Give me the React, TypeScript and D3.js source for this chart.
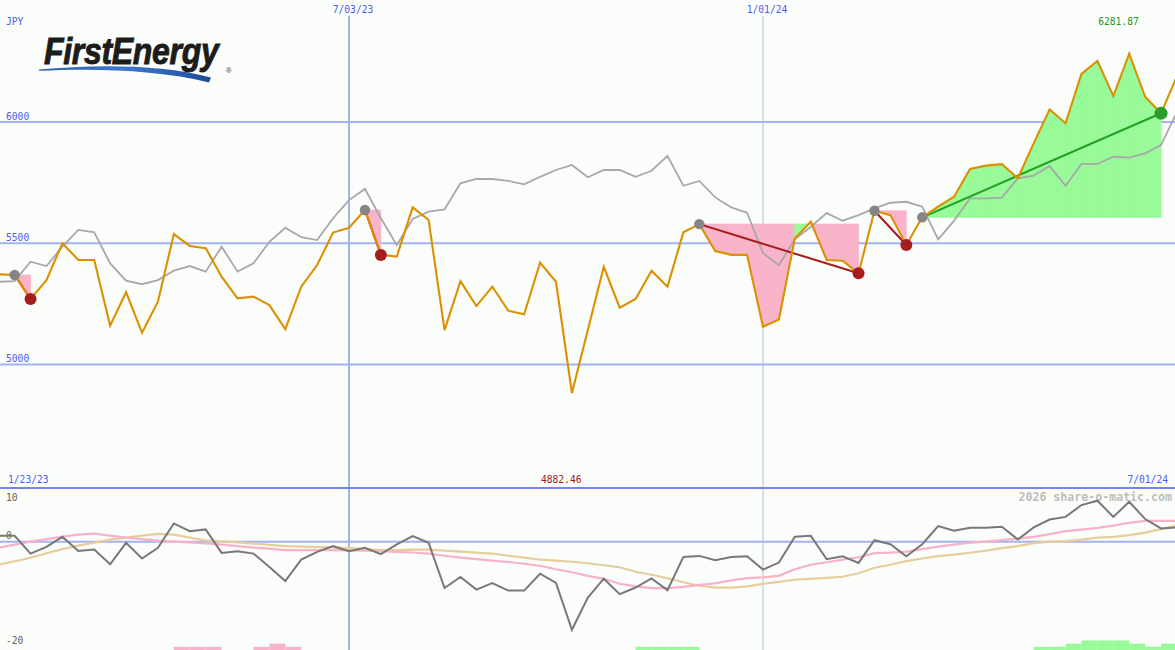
import React from 'react';
import * as d3 from 'd3';

// ---------- data ----------
const firstWeek = Date.UTC(2023, 0, 30);
const lastWeekEnd = Date.UTC(2024, 6, 2);
const rangeLabels = ['1/23/23', '7/01/24'];
const currency = 'JPY';

const price = [
  5372, 5369, 5270, 5348, 5500, 5431, 5431, 5160, 5298, 5131,
  5259, 5538, 5489, 5480, 5362, 5273, 5280, 5245, 5146, 5321,
  5410, 5544, 5564, 5637, 5452, 5445, 5648, 5596, 5142, 5344,
  5241, 5321, 5222, 5207, 5420, 5341, 4882.46, 5142, 5403, 5234,
  5270, 5387, 5321, 5545, 5579, 5468, 5452, 5452, 5156, 5186,
  5520, 5589, 5431, 5428, 5376, 5634, 5616, 5493, 5607, 5651,
  5692, 5806, 5820, 5826, 5768, 5912, 6052, 5995, 6198, 6252,
  6107, 6281.87, 6104, 6036, 6190,
];

const benchmark = [
  5341, 5344, 5424, 5406, 5486, 5555, 5545, 5417, 5346, 5331,
  5348, 5387, 5406, 5383, 5486, 5383, 5417, 5506, 5564, 5525,
  5513, 5603, 5678, 5724, 5603, 5493, 5600, 5630, 5640, 5747,
  5765, 5765, 5757, 5743, 5774, 5802, 5823, 5772, 5802, 5802,
  5774, 5799, 5860, 5737, 5757, 5689, 5648, 5626, 5459, 5410,
  5516, 5568, 5624, 5593, 5616, 5644, 5667, 5671, 5651, 5516,
  5593, 5685, 5685, 5688, 5768, 5779, 5819, 5737, 5827, 5827,
  5857, 5853, 5871, 5905, 6042,
];

const oscillator = [
  1.08, 1.08, -2.22, -0.97, 0.9, -1.72, -1.46, -4.21, -0.22, -3.14,
  -1.16, 3.4, 1.96, 2.28, -2.09, -1.78, -2.22, -4.71, -7.33, -3.33,
  -1.89, -0.84, -1.78, -1.16, -2.34, -0.52, 1.03, -0.22, -8.64, -6.58,
  -8.94, -7.7, -9.12, -9.12, -5.98, -7.7, -16.42, -10.4, -6.9, -9.77,
  -8.54, -6.86, -9.03, -2.84, -2.65, -3.46, -2.84, -2.71, -5.2, -3.89,
  0.9, 1.08, -3.27, -2.71, -3.96, 0.28, -0.47, -2.71, -0.47, 2.9,
  2.02, 2.58, 2.58, 2.77, 0.41, 2.65, 4.13, 4.62, 6.82, 7.63,
  4.62, 7.43, 4.21, 2.47, 2.65,
];

const oscFast = [
  -1.12, -0.56, 0, 0.47, 0.93, 1.31, 1.5, 1.12, 0.75, 0.47,
  0.19, 0, -0.15, -0.34, -0.56, -0.84, -1.12, -1.31, -1.59, -1.59,
  -1.59, -1.59, -1.63, -1.68, -1.78, -1.91, -2.02, -2.24, -2.62, -2.99,
  -3.27, -3.55, -3.79, -4.11, -4.49, -5.14, -5.7, -6.36, -6.92, -7.85,
  -8.32, -8.64, -8.64, -8.41, -8.04, -7.76, -7.2, -6.79, -6.64, -6.36,
  -5.14, -4.3, -3.83, -3.36, -2.9, -2.15, -2.06, -1.87, -1.4, -0.93,
  -0.56, -0.19, 0, 0.28, 0.56, 0.9, 1.4, 1.96, 2.24, 2.56,
  2.99, 3.51, 3.88, 3.88, 3.88,
];

const oscSlow = [
  -4.3, -3.64, -2.99, -2.15, -1.4, -0.75, -0.19, 0.37, 0.75, 1.12,
  1.44, 1.31, 0.75, 0.24, 0.06, -0.15, -0.37, -0.6, -0.84, -0.93,
  -1.03, -1.08, -1.21, -1.4, -1.59, -1.59, -1.5, -1.5, -1.68, -1.87,
  -2.06, -2.21, -2.62, -2.99, -3.33, -3.55, -3.74, -4.02, -4.39, -4.77,
  -5.61, -6.17, -6.82, -7.57, -8.22, -8.56, -8.56, -8.32, -7.85, -7.48,
  -7.1, -6.92, -6.73, -6.54, -5.89, -4.86, -4.3, -3.64, -3.14, -2.71,
  -2.43, -2.06, -1.68, -1.21, -0.84, -0.28, 0, 0.09, 0.37, 0.75,
  0.9, 1.21, 1.68, 2.34, 2.99,
];

const sellBarIdx = [11, 12, 13, 16, 17, 18];
const sellBarLevel = [1, 1, 1, 1, 2, 1];
const buyBarIdx = [40, 41, 42, 43, 65, 66, 67, 68, 69, 70, 71, 72, 73];
const buyBarLevel = [1, 1, 1, 1, 1, 1, 2, 3, 3, 3, 2, 1, 2];

const peakIdx = [1, 23, 44, 55, 58];
const troughIdx = [2, 24, 54, 57];
const drawdowns: [number, number][] = [[1, 2], [23, 24], [44, 54], [55, 57]];
const gains: [number, number][] = [[58, 73]];

const priceTicks = [5000, 5500, 6000];
const oscTicks = [10, 0, -20];
const dateTicks = [Date.UTC(2023, 6, 3), Date.UTC(2024, 0, 1)];

// ---------- style ----------
const W = 1175;
const H = 650;
const MONO = "'DejaVu Sans Mono', 'Liberation Mono', monospace";
const BLUE_TXT = '#4a5cf0';
const GRID = '#a3b3f2';
const ORANGE = '#dc9000';
const PINK = '#f9b4c9';
const GREENF = '#98fa98';

function Label(props: {
  x: number;
  y: number;
  fill: string;
  anchor?: 'start' | 'middle' | 'end';
  children: string;
}) {
  const s = String(props.children);
  return (
    <text
      x={props.x}
      y={props.y}
      textAnchor={props.anchor || 'start'}
      fontFamily={MONO}
      fontSize={11}
      textLength={s.length * 5.8}
      lengthAdjust="spacingAndGlyphs"
      fill={props.fill}
    >
      {s}
    </text>
  );
}

export default function App() {
  const dates = d3.utcMonday.range(new Date(firstWeek), new Date(lastWeekEnd));
  const x = d3.scaleUtc().domain([dateTicks[0], dateTicks[1]]).range([349, 763]);
  const yP = d3.scaleLinear().domain([5000, 6000]).range([364.5, 122]);
  const yO = d3.scaleLinear().domain([-20, 10]).range([649, 488]);
  const yB = d3.scaleLinear().domain([0, 3]).range([650, 640.5]);

  const X = (i: number) => x(dates[i]);
  const priceLine = d3.line<number>().x((_, i) => X(i)).y((d) => yP(d));
  const oscLine = d3.line<number>().x((_, i) => X(i)).y((d) => yO(d));

  const fills: { pts: [number, number][]; color: string }[] = [];
  const addFills = (spans: [number, number][]) => {
    spans.forEach(([a, b]) => {
      const level = price[a];
      for (let i = a; i < b; i++) {
        fills.push({
          pts: [
            [X(i), yP(level)],
            [X(i + 1), yP(level)],
            [X(i + 1), yP(price[i + 1])],
            [X(i), yP(price[i])],
          ],
          color: price[i + 1] > level ? GREENF : PINK,
        });
      }
    });
  };
  addFills(drawdowns);
  addFills(gains);

  const maxIdx = d3.maxIndex(price);
  const minIdx = d3.minIndex(price);
  const fmtDate = d3.utcFormat('%-m/%d/%y');

  return (
    <svg width={W} height={H} style={{ display: 'block', position: 'absolute', left: 0, top: 0 }}>
      <style>{`body{margin:0}`}</style>
      <rect x={0} y={0} width={W} height={H} fill="#fbfdfb" />

      {/* horizontal price grid */}
      {priceTicks.map((t) => (
        <g key={t}>
          <line x1={0} x2={W} y1={yP(t)} y2={yP(t)} stroke={GRID} strokeWidth={2} />
          <Label x={6} y={yP(t) - 2.5} fill={BLUE_TXT}>
            {String(t)}
          </Label>
        </g>
      ))}

      {/* vertical date grid */}
      {dateTicks.map((d, k) => (
        <g key={d}>
          <line
            x1={x(d)}
            x2={x(d)}
            y1={16}
            y2={H}
            stroke={k === 0 ? GRID : '#b6bbe2'}
            strokeWidth={k === 0 ? 2 : 1}
          />
          <Label x={x(d) + 4} y={13} anchor="middle" fill={BLUE_TXT}>
            {fmtDate(new Date(d))}
          </Label>
        </g>
      ))}

      <Label x={6} y={25} fill={BLUE_TXT}>
        {currency}
      </Label>

      {/* logo */}
      <g>
        <defs>
          <linearGradient id="sw" x1="0" x2="1" y1="0" y2="0">
            <stop offset="0" stopColor="#2a5db0" />
            <stop offset="0.5" stopColor="#3f78cc" />
            <stop offset="1" stopColor="#1f4c9c" />
          </linearGradient>
        </defs>
        <path
          d="M39 69.6 C 95 64.5, 160 64, 211 77.5 L 209 82.5 C 160 70, 95 68, 39 70.8 Z"
          fill="url(#sw)"
        />
        <text
          transform="translate(44,64.3) scale(1,1.16)"
          x={0}
          y={0}
          fontFamily="'Liberation Sans', Arial, sans-serif"
          fontWeight="bold"
          fontStyle="italic"
          fontSize={32}
          letterSpacing={-0.3}
          fill="#1c1c1c"
          stroke="#1c1c1c"
          strokeWidth={0.8}
        >
          FirstEnergy
        </text>
        <text x={226} y={73} fontFamily="'Liberation Sans', Arial, sans-serif" fontSize={7.5} fill="#333">
          ®
        </text>
      </g>

      {/* drawdown / gain fills */}
      {fills.map((f, k) => (
        <polygon
          key={k}
          points={f.pts.map((p) => p.join(',')).join(' ')}
          fill={f.color}
          stroke={f.color}
          strokeWidth={0.8}
          strokeLinejoin="round"
        />
      ))}

      {/* benchmark */}
      <path d={priceLine(benchmark) || ''} fill="none" stroke="#a8a8a8" strokeWidth={1.8} />

      {/* trend lines */}
      {drawdowns.map(([a, b]) => (
        <line key={a} x1={X(a)} y1={yP(price[a])} x2={X(b)} y2={yP(price[b])} stroke="#a41c1c" strokeWidth={2} />
      ))}
      {gains.map(([a, b]) => (
        <line key={a} x1={X(a)} y1={yP(price[a])} x2={X(b)} y2={yP(price[b])} stroke="#22a022" strokeWidth={2} />
      ))}

      {/* price */}
      <path d={priceLine(price) || ''} fill="none" stroke={ORANGE} strokeWidth={2.1} strokeLinejoin="miter" />

      {/* markers */}
      {peakIdx.map((i) => (
        <circle key={'p' + i} cx={X(i)} cy={yP(price[i])} r={5.2} fill="#858585" />
      ))}
      {troughIdx.map((i) => (
        <circle key={'t' + i} cx={X(i)} cy={yP(price[i])} r={6} fill="#a41e1e" />
      ))}
      {gains.map(([, b]) => (
        <circle key={'g' + b} cx={X(b)} cy={yP(price[b])} r={6.5} fill="#2a9c2a" />
      ))}

      {/* extreme labels */}
      <Label x={X(maxIdx) - 31} y={25} fill="#1e961e">
        {price[maxIdx].toFixed(2)}
      </Label>
      <Label x={X(minIdx) - 31} y={483} fill="#a01818">
        {price[minIdx].toFixed(2)}
      </Label>

      {/* range labels */}
      <Label x={8} y={483} fill={BLUE_TXT}>
        {rangeLabels[0]}
      </Label>
      <Label x={1168} y={483} anchor="end" fill={BLUE_TXT}>
        {rangeLabels[1]}
      </Label>

      {/* lower panel */}
      <line x1={0} x2={W} y1={488} y2={488} stroke="#7484ec" strokeWidth={2} />
      <line x1={0} x2={W} y1={yO(0)} y2={yO(0)} stroke={GRID} strokeWidth={2} />
      {oscTicks.map((t, k) => (
        <Label
          key={t}
          x={6}
          y={k === 0 ? yO(t) + 13 : k === oscTicks.length - 1 ? yO(t) - 5 : yO(t) - 3}
          fill="#606060"
        >
          {String(t)}
        </Label>
      ))}
      <text
        x={1172}
        y={501}
        textAnchor="end"
        fontFamily={MONO}
        fontWeight="bold"
        fontSize={11.6}
        fill="#bdbdbd"
      >
        2026 share-o-matic.com
      </text>

      {sellBarIdx.map((i, k) => (
        <rect key={'s' + i} x={X(i)} y={yB(sellBarLevel[k])} width={X(i + 1) - X(i)} height={650 - yB(sellBarLevel[k])} fill={PINK} />
      ))}
      {buyBarIdx.map((i, k) => (
        <rect
          key={'b' + i}
          x={X(i)}
          y={yB(buyBarLevel[k])}
          width={(i + 1 < dates.length ? X(i + 1) : W) - X(i)}
          height={650 - yB(buyBarLevel[k])}
          fill={GREENF}
        />
      ))}

      <path d={oscLine(oscSlow) || ''} fill="none" stroke="#e6cd9c" strokeWidth={2.2} />
      <path d={oscLine(oscFast) || ''} fill="none" stroke="#f8b2c8" strokeWidth={2.2} />
      <path d={oscLine(oscillator) || ''} fill="none" stroke="#787878" strokeWidth={2} />
    </svg>
  );
}
